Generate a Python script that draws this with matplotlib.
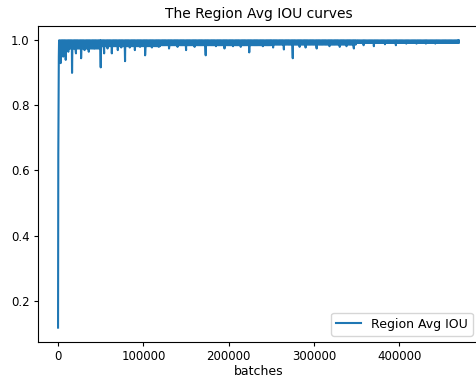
import numpy as np
import matplotlib
matplotlib.use("Agg")
import matplotlib.pyplot as plt

# start of training: quick climb from low IOU
start_batches = [0, 300, 600, 900, 1200]
start_iou = [0.117, 0.65, 0.80, 0.95, 1.0]

# dense noisy band near 1.0, floor read per segment
band_edges = [1500, 50000, 120000, 250000, 350000, 470000]
band_floor = [0.975, 0.982, 0.985, 0.987, 0.992]
band_top = 1.0
band_step = 700

# the downward spikes
dip_batches = [3000, 6000, 9000, 12000, 16400, 21000, 27000, 31000, 36000,
               42000, 50000, 54000, 58000, 63000, 70000, 74000, 78500,
               84000, 90000, 96000, 102000, 110000, 118000, 130000, 140000,
               150000, 160000, 173000, 185000, 195000, 205000, 214000,
               224000, 240000, 252000, 264600, 275000, 283000, 290000,
               303000, 318000, 330000, 338000, 346600, 358000, 370000,
               383000, 395800, 408000, 420000, 431000, 442000, 455000]
dip_iou = [0.93, 0.95, 0.94, 0.965, 0.90, 0.96, 0.945, 0.97, 0.965,
           0.975, 0.917, 0.96, 0.975, 0.96, 0.97, 0.978, 0.936,
           0.978, 0.97, 0.98, 0.954, 0.978, 0.98, 0.975, 0.98,
           0.97, 0.98, 0.954, 0.982, 0.975, 0.982, 0.98,
           0.963, 0.982, 0.978, 0.972, 0.945, 0.98, 0.978,
           0.975, 0.982, 0.98, 0.982, 0.975, 0.985, 0.982,
           0.988, 0.985, 0.99, 0.99, 0.99, 0.99, 0.992]

# assemble the series
xs = list(start_batches)
ys = list(start_iou)
dips = dict(zip(dip_batches, dip_iou))
dip_keys = sorted(dips)
k = 0
for i in range(len(band_floor)):
    grid = np.arange(band_edges[i], band_edges[i + 1], band_step)
    for j, b in enumerate(grid):
        while k < len(dip_keys) and dip_keys[k] <= b:
            xs.append(dip_keys[k])
            ys.append(dips[dip_keys[k]])
            k += 1
        xs.append(b)
        ys.append(band_top if j % 2 == 0 else band_floor[i])
xs.append(469500)
ys.append(band_top)

fig = plt.figure(figsize=(4.76, 3.80), dpi=100)
ax = fig.add_axes([38 / 476, 38 / 380, 441 / 476, 316 / 380])

ax.plot(xs, ys, color="#1f77b4", linewidth=1.5, label="Region Avg IOU")

ax.set_title("The Region Avg IOU curves", fontsize=10)
ax.set_xlabel("batches", fontsize=9, labelpad=1)
ax.set_xticks([0, 100000, 200000, 300000, 400000])
ax.set_yticks([0.2, 0.4, 0.6, 0.8, 1.0])
ax.tick_params(labelsize=8.5, length=3, pad=3)
ax.legend(loc="lower right", fontsize=9)

fig.savefig("out.png", dpi=100)
